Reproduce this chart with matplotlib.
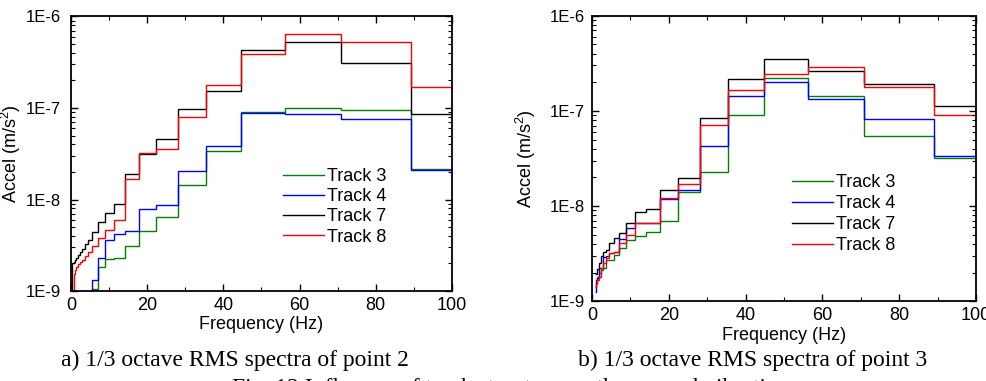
import numpy as np
import matplotlib
matplotlib.use("Agg")
import matplotlib.pyplot as plt

plt.rcParams['font.family'] = ['Liberation Sans', 'DejaVu Sans']
plt.rcParams['mathtext.default'] = 'regular'

# 1/3 octave band numbers (centre = 10^(n/10) Hz)
bands_a = np.arange(-7, 21)   # 0.2 .. 100 Hz
bands_b = np.arange(0, 21)    # 1 .. 100 Hz

labels = ["Track 3", "Track 4", "Track 7", "Track 8"]
colors = ["#008000", "#0000ff", "#000000", "#ff0000"]

# point 2 : RMS accel per band (first band index of each track given by start)
start_a = [15, 15, 0, 6]
t3_a = [1.05e-9, 1.82e-9, 2.22e-9, 2.27e-9, 3.1e-9, 4.53e-9, 6.38e-9, 1.44e-8,
        3.39e-8, 8.95e-8, 1.0e-7, 9.5e-8, 2.17e-8]
t4_a = [1.33e-9, 2.3e-9, 3.6e-9, 4.2e-9, 4.53e-9, 7.81e-9, 8.65e-9, 2.03e-8,
        3.85e-8, 8.8e-8, 8.67e-8, 7.64e-8, 2.1e-8]
t7_a = [2.0e-9, 2.0e-9, 2.0e-9, 2.0e-9, 2.0e-9, 2.0e-9, 2.05e-9, 2.1e-9, 2.2e-9,
        2.3e-9, 2.5e-9, 2.7e-9, 2.85e-9, 3.3e-9, 3.6e-9, 4.4e-9, 5.7e-9, 7.06e-9,
        8.9e-9, 1.91e-8, 3.12e-8, 4.58e-8, 9.75e-8, 1.53e-7, 4.31e-7, 5.31e-7,
        3.08e-7, 8.6e-8]
t8_a = [1.45e-9, 1.55e-9, 1.7e-9, 1.85e-9, 1.95e-9, 2.1e-9, 2.2e-9, 2.4e-9,
        2.7e-9, 3.1e-9, 3.8e-9, 4.7e-9, 6.0e-9, 1.69e-8, 3.22e-8, 3.56e-8,
        8.04e-8, 1.78e-7, 3.89e-7, 6.49e-7, 5.31e-7, 1.70e-7]

# point 3
t3_b = [1.43e-9, 1.55e-9, 1.81e-9, 2.0e-9, 2.13e-9, 2.22e-9, 2.72e-9, 2.72e-9,
        3.06e-9, 3.6e-9, 4.4e-9, 4.85e-9, 5.38e-9, 7.03e-9, 1.4e-8, 2.26e-8,
        8.99e-8, 2.23e-7, 1.44e-7, 5.5e-8, 3.2e-8]
t4_b = [1.26e-9, 1.68e-9, 1.74e-9, 2.22e-9, 2.22e-9, 2.95e-9, 2.99e-9, 3.2e-9,
        3.32e-9, 4.48e-9, 5.85e-9, 6.6e-9, 6.7e-9, 1.18e-8, 1.48e-8, 4.28e-8,
        1.42e-7, 2.03e-7, 1.34e-7, 8.17e-8, 3.34e-8]
t7_b = [1.95e-9, 1.95e-9, 2.2e-9, 2.5e-9, 2.99e-9, 3.32e-9, 3.46e-9, 4.06e-9,
        4.59e-9, 5.18e-9, 6.59e-9, 8.73e-9, 9.24e-9, 1.48e-8, 1.99e-8, 8.35e-8,
        2.16e-7, 3.48e-7, 2.61e-7, 1.9e-7, 1.12e-7]
t8_b = [1.43e-9, 1.52e-9, 1.68e-9, 1.81e-9, 2.22e-9, 2.51e-9, 2.83e-9, 3.19e-9,
        3.32e-9, 4.06e-9, 4.97e-9, 6.7e-9, 6.7e-9, 1.21e-8, 1.69e-8, 7.11e-8,
        1.64e-7, 2.45e-7, 2.92e-7, 1.79e-7, 9.12e-8]

yticks = [1e-9, 1e-8, 1e-7, 1e-6]
yticklabels = ["1E-9", "1E-8", "1E-7", "1E-6"]
xticks = [0, 20, 40, 60, 80, 100]


def band_edges(n):
    return np.concatenate([10 ** ((n - 0.5) / 10), [10 ** ((n[-1] + 0.5) / 10)]])


def style(ax, ypad):
    ax.set_yscale('log')
    ax.set_xlim(0, 100)
    ax.set_ylim(1e-9, 1e-6)
    ax.set_xticks(xticks)
    ax.set_xticks([10, 30, 50, 70, 90], minor=True)
    ax.set_yticks(yticks, labels=yticklabels)
    ax.tick_params(which='both', direction='in', top=True, right=True)
    ax.tick_params(which='major', length=5, width=1)
    ax.tick_params(which='minor', length=3, width=0.8)
    ax.tick_params(axis='x', labelsize=13, pad=4)
    ax.tick_params(axis='y', labelsize=12, pad=ypad)
    for s in ax.spines.values():
        s.set_linewidth(1.3)
    ax.set_xlabel("Frequency (Hz)", fontsize=13, labelpad=2)
    ax.set_ylabel("Accel (m/s$^2$)", fontsize=13)


fig = plt.figure(figsize=(9.86, 3.81), dpi=100)
ax1 = fig.add_axes([0.072, 0.2362, 0.3864, 0.7205])
ax2 = fig.add_axes([0.6004, 0.2092, 0.3895, 0.7496])

data_a = [t3_a, t4_a, t7_a, t8_a]
for vals, st, c, lab in zip(data_a, start_a, colors, labels):
    n = bands_a[st:st + len(vals)]
    ax1.stairs(vals, band_edges(n), baseline=1e-12, color=c, lw=1.0, label=lab)

data_b = [t3_b, t4_b, t7_b, t8_b]
for vals, c, lab in zip(data_b, colors, labels):
    ax2.stairs(vals, band_edges(bands_b), baseline=None, color=c, lw=1.0, label=lab)

style(ax1, 7)
style(ax2, 5)
ax1.yaxis.set_label_coords(-0.125, 0.5)
ax2.yaxis.set_label_coords(-0.14, 0.5)

for ax, x0, y0, sp in [(ax1, 0.556, 0.447, 0.17), (ax2, 0.521, 0.445, 0.22)]:
    ax.legend(loc='upper left', bbox_to_anchor=(x0, y0), frameon=False,
              fontsize=13, handlelength=2.28, handletextpad=0.15,
              labelspacing=sp, borderpad=0, borderaxespad=0)

serif = ['Liberation Serif', 'DejaVu Serif']
fig.text(235 / 986, 1 - 366 / 381, "a) 1/3 octave RMS spectra of point 2",
         family=serif, fontsize=17, ha='center', va='baseline')
fig.text(753 / 986, 1 - 366 / 381, "b) 1/3 octave RMS spectra of point 3",
         family=serif, fontsize=17, ha='center', va='baseline')
fig.text(232 / 986, 1 - 394 / 381, "Fig. 12 Influence of track structure on the ground vibration",
         family=serif, fontsize=17, ha='left', va='baseline')

fig.savefig("out.png", dpi=100)
